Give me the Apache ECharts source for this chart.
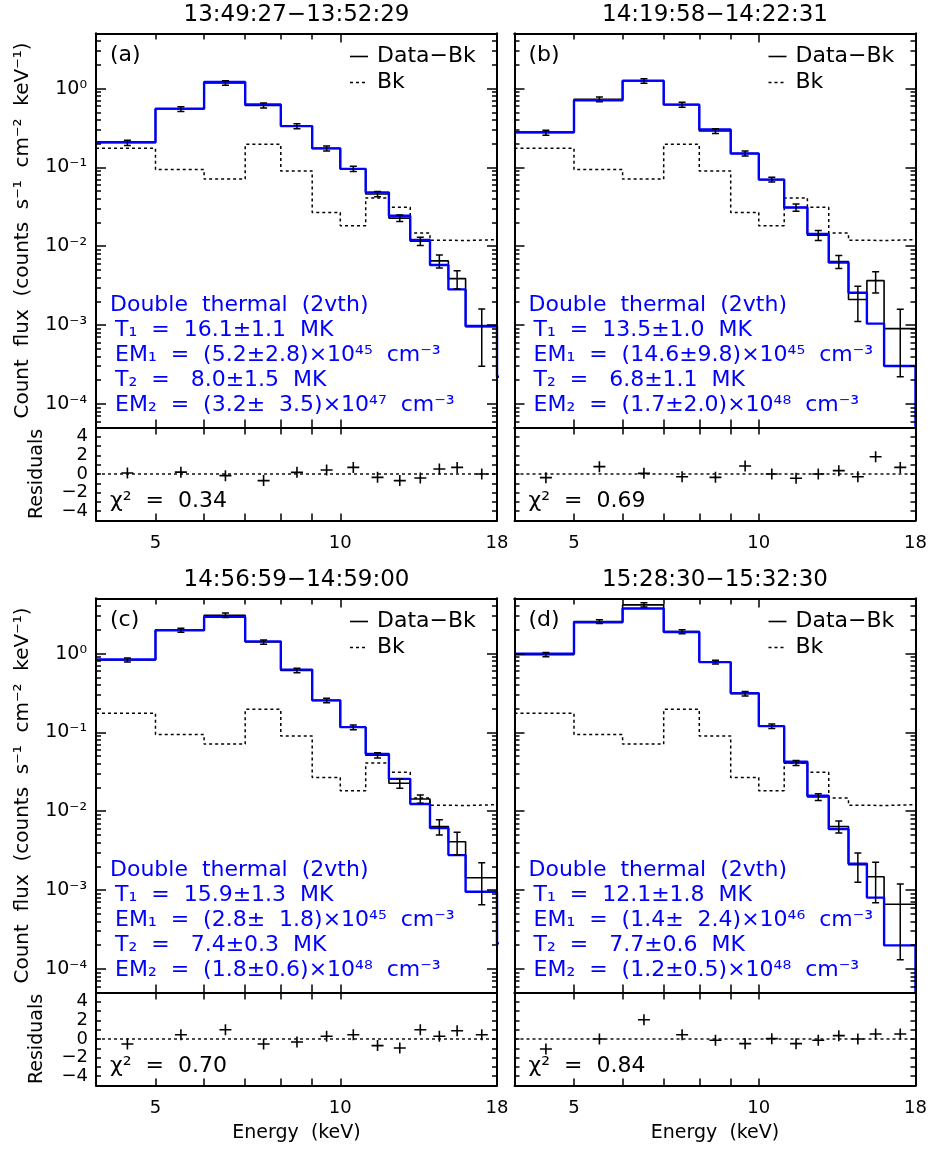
<!DOCTYPE html>
<html>
<head>
<meta charset="utf-8">
<script src="https://cdn.jsdelivr.net/npm/echarts@6/dist/echarts.min.js"></script>
<style>
  html, body { margin: 0; padding: 0; background: #fff; }
  #chart { width: 931px; height: 1150px; }
</style>
</head>
<body>
<div id="chart"></div>
<script>
// ---- energy binning (keV) ----
const binEdges = [4, 5, 6, 7, 8, 9, 10, 11, 12, 13, 14, 15, 16, 18];
const binCenters = [4.5, 5.5, 6.5, 7.5, 8.5, 9.5, 10.5, 11.5, 12.5, 13.5, 14.5, 15.5, 17];

// ---- background spectrum (counts s^-1 cm^-2 keV^-1), same for all intervals ----
const bkFlux = [0.175, 0.094, 0.071, 0.196, 0.090, 0.0268, 0.0182, 0.041, 0.0312, 0.0147, 0.0119, 0.0118, 0.0121];

// ---- time intervals ----
const intervalTitles = ['13:49:27−13:52:29', '14:19:58−14:22:31', '14:56:59−14:59:00', '15:28:30−15:32:30'];
const panelTags = ['(a)', '(b)', '(c)', '(d)'];

// ---- (a) ----
const dataA  = [0.205, 0.55, 1.18, 0.61, 0.334, 0.174, 0.096, 0.046, 0.0227, 0.0116, 0.0065, 0.00387, 0.00095];
const errA   = [0.016, 0.04, 0.08, 0.045, 0.024, 0.013, 0.0075, 0.0035, 0.0022, 0.0014, 0.0012, 0.001, 0.00065];
const modelA = [0.209, 0.556, 1.21, 0.63, 0.334, 0.174, 0.0957, 0.0482, 0.0243, 0.0120, 0.00578, 0.00283, 0.00097];
const modelTailA = 0.00022;
const residA = [0.1, 0.2, -0.18, -0.71, 0.18, 0.43, 0.71, -0.36, -0.71, -0.43, 0.54, 0.71, 0];

// ---- (b) ----
const dataB  = [0.275, 0.73, 1.25, 0.625, 0.29, 0.15, 0.07, 0.031, 0.0138, 0.0064, 0.00211, 0.00365, 0.0009];
const errB   = [0.02, 0.05, 0.08, 0.045, 0.02, 0.011, 0.005, 0.0032, 0.002, 0.0012, 0.001, 0.0011, 0.00068];
const modelB = [0.28, 0.71, 1.26, 0.625, 0.303, 0.150, 0.070, 0.0310, 0.01434, 0.00618, 0.00257, 0.00104, 0.000302];
const modelTailB = 0.00003;
const residB = [-0.39, 0.79, 0.07, -0.29, -0.36, 0.86, 0, -0.46, 0, 0.36, -0.29, 1.86, 0.71];

// ---- (c) ----
const dataC  = [0.83, 1.98, 3.07, 1.4, 0.61, 0.255, 0.116, 0.0512, 0.0226, 0.0143, 0.0064, 0.0041, 0.00143];
const errC   = [0.05, 0.12, 0.2, 0.09, 0.04, 0.017, 0.008, 0.004, 0.003, 0.0017, 0.0014, 0.0013, 0.00078];
const modelC = [0.84, 1.98, 2.92, 1.43, 0.626, 0.255, 0.1165, 0.0534, 0.0257, 0.01235, 0.0061, 0.00277, 0.00095];
const modelTailC = 0.00021;
const residC = [-0.54, 0.46, 1.0, -0.54, -0.32, 0.29, 0.46, -0.71, -0.96, 1.0, 0.29, 0.89, 0.46];

// ---- (d) ----
const dataD  = [0.97, 2.55, 4.15, 1.9, 0.78, 0.31, 0.12, 0.041, 0.0152, 0.0064, 0.0021, 0.00147, 0.00066];
const errD   = [0.06, 0.14, 0.25, 0.11, 0.045, 0.02, 0.008, 0.003, 0.0015, 0.0011, 0.00085, 0.00078, 0.00053];
const modelD = [1.0, 2.5, 3.74, 1.88, 0.78, 0.315, 0.12, 0.0426, 0.0157, 0.00593, 0.00216, 0.0008, 0.000198];
const modelTailD = 0.00003;
const residD = [-1.07, 0, 2.07, 0.46, -0.14, -0.5, 0.04, -0.5, -0.14, 0.36, 0, 0.54, 0.54];

// ---- fit results (double thermal) ----
const fitLines = [
  ['T₁  =  16.1±1.1  MK', 'EM₁  =  (5.2±2.8)×10⁴⁵  cm⁻³', 'T₂  =   8.0±1.5  MK', 'EM₂  =  (3.2±  3.5)×10⁴⁷  cm⁻³'],
  ['T₁  =  13.5±1.0  MK', 'EM₁  =  (14.6±9.8)×10⁴⁵  cm⁻³', 'T₂  =   6.8±1.1  MK', 'EM₂  =  (1.7±2.0)×10⁴⁸  cm⁻³'],
  ['T₁  =  15.9±1.3  MK', 'EM₁  =  (2.8±  1.8)×10⁴⁵  cm⁻³', 'T₂  =   7.4±0.3  MK', 'EM₂  =  (1.8±0.6)×10⁴⁸  cm⁻³'],
  ['T₁  =  12.1±1.8  MK', 'EM₁  =  (1.4±  2.4)×10⁴⁶  cm⁻³', 'T₂  =   7.7±0.6  MK', 'EM₂  =  (1.2±0.5)×10⁴⁸  cm⁻³']
];
const chiSquared = ['0.34', '0.69', '0.70', '0.84'];

// ---- axis ticks ----
const energyRange = [4, 18];
const fluxRange = [5e-5, 5];
const residRange = [-5, 5];
const energyMinorTicks = [5, 6, 7, 8, 9];
const energyMajorTicks = [10];
const energyAllTicks = [5, 6, 7, 8, 9, 10];
const energyLabels = [5, 10, 18];
const fluxDecades = [-4, -3, -2, -1, 0];
const residTicks = [-4, -3, -2, -1, 0, 1, 2, 3, 4];
const residLabels = [-4, -2, 0, 2, 4];

const panelSets = [
  { data: dataA, err: errA, model: modelA, tail: modelTailA, resid: residA },
  { data: dataB, err: errB, model: modelB, tail: modelTailB, resid: residB },
  { data: dataC, err: errC, model: modelC, tail: modelTailC, resid: residC },
  { data: dataD, err: errD, model: modelD, tail: modelTailD, resid: residD }
];

// ---- layout ----
const FONT = 'DejaVu Sans';
const BLUE = '#0000ff';
const PW = 401, HMAIN = 394, HRES = 93;
const panelBoxes = [
  { left: 96, top: 33.5 }, { left: 514.5, top: 33.5 },
  { left: 96, top: 598.5 }, { left: 514.5, top: 598.5 }
];

const L10 = Math.log10;
const SUP = { '-': '⁻', '0': '⁰', '1': '¹', '2': '²', '3': '³', '4': '⁴', '5': '⁵', '6': '⁶', '7': '⁷', '8': '⁸', '9': '⁹' };
const sup = s => String(s).split('').map(c => SUP[c] || c).join('');

const grids = [], xAxes = [], yAxes = [], series = [], graphics = [];

// frame axis carrying ticks (and optionally labels) in log10 / linear space
function tickAxis(kind, grid, pos, range, ticks, len, label) {
  const ax = {
    type: 'value', gridIndex: grid, position: pos,
    min: range[0], max: range[1],
    axisLine: { show: true, onZero: false, lineStyle: { color: '#000', width: 2 } },
    axisTick: { show: true, inside: true, length: len, customValues: ticks, lineStyle: { color: '#000', width: 1.5 } },
    axisLabel: { show: false },
    splitLine: { show: false },
    z: 6
  };
  if (label) {
    ax.axisLabel = Object.assign({ show: true, color: '#000', fontFamily: FONT, fontSize: 18 }, label);
  }
  (kind === 'x' ? xAxes : yAxes).push(ax);
}

// hidden axis that places the data
function dataAxis(kind, grid, type, range) {
  const arr = kind === 'x' ? xAxes : yAxes;
  arr.push({ type: type, gridIndex: grid, min: range[0], max: range[1], show: false,
             axisLine: { onZero: false }, splitLine: { show: false } });
  return arr.length - 1;
}

function stepPoints(values, tail) {
  const pts = binEdges.slice(0, -1).map((e, i) => [e, values[i]]);
  const last = binEdges[binEdges.length - 1];
  pts.push([last, values[values.length - 1]]);
  if (tail !== undefined) {
    pts.push([last, tail]);
    pts.push([last + 2, tail]);
  }
  return pts;
}

const logEnergyRange = energyRange.map(L10);
const logFluxRange = fluxRange.map(L10);
const fluxMinorTicks = [];
for (let n = -5; n <= 0; n++) {
  for (let k = 2; k <= 9; k++) {
    const v = L10(k) + n;
    if (v > logFluxRange[0] && v < logFluxRange[1]) fluxMinorTicks.push(v);
  }
}

const energyFmt = v => String(Math.round(Math.pow(10, v)));
const fluxFmt = v => '10' + sup(Math.round(v));
const residFmt = v => (v < 0 ? '−' + (-v) : String(v));

panelSets.forEach((p, i) => {
  const box = panelBoxes[i];
  const isLeft = (i % 2 === 0);
  const gMain = grids.length;
  grids.push({ left: box.left, top: box.top, width: PW, height: HMAIN, outerBoundsMode: 'none' });
  const gRes = grids.length;
  grids.push({ left: box.left, top: box.top + HMAIN, width: PW, height: HRES, outerBoundsMode: 'none' });

  // spectrum panel axes
  const xm = dataAxis('x', gMain, 'log', energyRange);
  const ym = dataAxis('y', gMain, 'log', fluxRange);
  tickAxis('x', gMain, 'bottom', logEnergyRange, energyAllTicks.map(L10), 8);
  tickAxis('x', gMain, 'top', logEnergyRange, energyMinorTicks.map(L10), 6);
  tickAxis('x', gMain, 'top', logEnergyRange, energyMajorTicks.map(L10), 9);
  tickAxis('y', gMain, 'left', logFluxRange, fluxDecades, 10,
    isLeft ? { customValues: fluxDecades, formatter: fluxFmt, margin: 9, fontSize: 19 } : null);
  tickAxis('y', gMain, 'left', logFluxRange, fluxMinorTicks, 5);
  tickAxis('y', gMain, 'right', logFluxRange, fluxDecades, 10);
  tickAxis('y', gMain, 'right', logFluxRange, fluxMinorTicks, 5);

  // residual panel axes (one frame axis per side)
  const xr = dataAxis('x', gRes, 'log', energyRange);
  const yr = dataAxis('y', gRes, 'value', residRange);
  tickAxis('x', gRes, 'bottom', logEnergyRange, energyAllTicks.map(L10), 7,
    { customValues: energyLabels.map(L10), formatter: energyFmt, margin: 14 });
  tickAxis('x', gRes, 'top', logEnergyRange, energyAllTicks.map(L10), 7);
  tickAxis('y', gRes, 'left', residRange, residTicks, 5,
    isLeft ? { customValues: residLabels, formatter: residFmt, margin: 8, fontSize: 18 } : null);
  tickAxis('y', gRes, 'right', residRange, residTicks, 5);

  // background (dotted histogram)
  series.push({
    name: 'Bk', type: 'line', step: 'end', xAxisIndex: xm, yAxisIndex: ym,
    data: stepPoints(bkFlux), symbol: 'none', clip: true, z: 2,
    lineStyle: { color: '#000', width: 1.5, type: [3, 3] }
  });
  // background-subtracted counts
  series.push({
    name: 'Data−Bk', type: 'line', step: 'end', xAxisIndex: xm, yAxisIndex: ym,
    data: stepPoints(p.data), symbol: 'none', clip: true, z: 3,
    lineStyle: { color: '#000', width: 1.6 }
  });
  // two-temperature model
  series.push({
    name: 'Double thermal (2vth)', type: 'line', step: 'end', xAxisIndex: xm, yAxisIndex: ym,
    data: stepPoints(p.model, p.tail), symbol: 'none', clip: true, z: 4,
    lineStyle: { color: BLUE, width: 2.4 }
  });
  // error bars
  series.push({
    name: 'Data−Bk errors', type: 'custom', xAxisIndex: xm, yAxisIndex: ym, clip: true, z: 5,
    encode: { x: 0, y: 1 },
    data: binCenters.map((c, k) => [c, p.data[k], Math.max(p.data[k] - p.err[k], 1e-8), p.data[k] + p.err[k]]),
    renderItem: function (params, api) {
      const x = api.value(0);
      const lo = api.coord([x, api.value(2)]);
      const hi = api.coord([x, api.value(3)]);
      const c = 3.5, st = { stroke: '#000', lineWidth: 1.5 };
      return { type: 'group', children: [
        { type: 'line', shape: { x1: lo[0], y1: lo[1], x2: hi[0], y2: hi[1] }, style: st },
        { type: 'line', shape: { x1: lo[0] - c, y1: lo[1], x2: lo[0] + c, y2: lo[1] }, style: st },
        { type: 'line', shape: { x1: hi[0] - c, y1: hi[1], x2: hi[0] + c, y2: hi[1] }, style: st }
      ] };
    }
  });
  // residual zero line
  series.push({
    name: 'zero', type: 'line', xAxisIndex: xr, yAxisIndex: yr,
    data: [[energyRange[0], 0], [energyRange[1], 0]], symbol: 'none', z: 2,
    lineStyle: { color: '#000', width: 1.4, type: [3, 3] }
  });
  // residual crosses
  series.push({
    name: 'Residuals', type: 'custom', xAxisIndex: xr, yAxisIndex: yr, clip: true, z: 5,
    encode: { x: 0, y: 1 },
    data: binCenters.map((c, k) => [c, p.resid[k]]),
    renderItem: function (params, api) {
      const pt = api.coord([api.value(0), api.value(1)]);
      const st = { stroke: '#000', lineWidth: 1.6 };
      return { type: 'group', children: [
        { type: 'line', shape: { x1: pt[0] - 6, y1: pt[1], x2: pt[0] + 6, y2: pt[1] }, style: st },
        { type: 'line', shape: { x1: pt[0], y1: pt[1] - 5.5, x2: pt[0], y2: pt[1] + 5.5 }, style: st }
      ] };
    }
  });

  // ---- texts ----
  const txt = (x, y, text, size, color, align, extra) => Object.assign({
    type: 'text', x: x, y: y, z: 20,
    style: { text: text, fontFamily: FONT, fontSize: size, fill: color || '#000',
             align: align || 'left', verticalAlign: 'middle' }
  }, extra || {});

  graphics.push(txt(box.left + PW / 2, box.top - 18, intervalTitles[i], 23, '#000', 'center'));
  graphics.push(txt(box.left + 14, box.top + 22, panelTags[i], 22));
  // legend
  graphics.push({ type: 'line', z: 20, shape: { x1: box.left + 254, y1: box.top + 23, x2: box.left + 272, y2: box.top + 23 },
                  style: { stroke: '#000', lineWidth: 1.6 } });
  graphics.push(txt(box.left + 281, box.top + 23, 'Data−Bk', 22));
  graphics.push({ type: 'line', z: 20, shape: { x1: box.left + 254, y1: box.top + 49, x2: box.left + 272, y2: box.top + 49 },
                  style: { stroke: '#000', lineWidth: 1.5, lineDash: [3, 3] } });
  graphics.push(txt(box.left + 281, box.top + 49, 'Bk', 22));
  // fit summary
  graphics.push(txt(box.left + 14, box.top + 272, 'Double  thermal  (2vth)', 22, BLUE));
  fitLines[i].forEach((s, k) => graphics.push(txt(box.left + 19, box.top + 297 + k * 25, s, 22, BLUE)));
  graphics.push(txt(box.left + 14, box.top + HMAIN + 74, 'χ²  =  ' + chiSquared[i], 22));

  if (isLeft) {
    graphics.push(txt(23, box.top + HMAIN / 2, 'Count  flux  (counts  s⁻¹  cm⁻²  keV⁻¹)', 20, '#000', 'center',
                      { rotation: Math.PI / 2 }));
    graphics.push(txt(37, box.top + HMAIN + HRES / 2, 'Residuals', 19, '#000', 'center',
                      { rotation: Math.PI / 2 }));
  }
  if (i >= 2) {
    graphics.push(txt(box.left + PW / 2, 1133, 'Energy  (keV)', 19, '#000', 'center'));
  }
});

const chart = echarts.init(document.getElementById('chart'), null, { renderer: 'canvas' });
chart.setOption({
  animation: false,
  backgroundColor: '#fff',
  grid: grids,
  xAxis: xAxes,
  yAxis: yAxes,
  series: series,
  graphic: graphics
});
</script>
</body>
</html>
